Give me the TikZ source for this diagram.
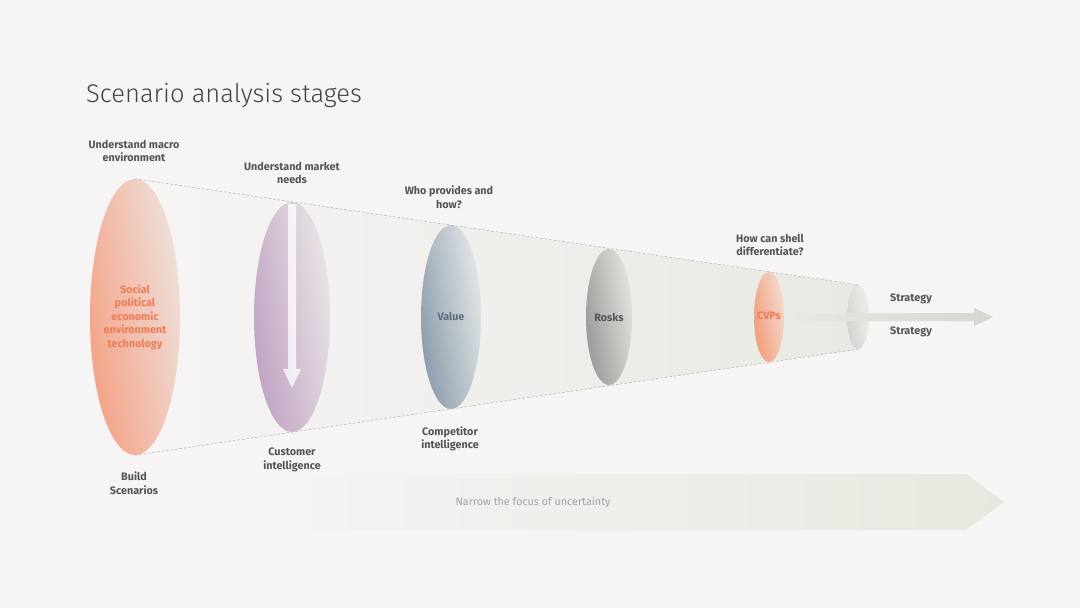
\documentclass[tikz,border=0pt]{standalone}
\usepackage{fontspec}
\setmainfont{Fira Sans}
\newfontfamily\titlefont{Fira Sans Light}
\usetikzlibrary{shapes.geometric}
\definecolor{bgc}{HTML}{F6F4F4}
\definecolor{conec}{HTML}{E9E9E3}
\definecolor{bandc}{HTML}{E8E7DF}
\definecolor{dashgray}{HTML}{B8B8B8}
\definecolor{labelgray}{HTML}{555555}
\definecolor{titlegray}{HTML}{444444}
\definecolor{orA}{HTML}{F4A083}
\definecolor{orB}{HTML}{EEE2DD}
\definecolor{puA}{HTML}{BEA0C1}
\definecolor{puB}{HTML}{EAE7E7}
\definecolor{blA}{HTML}{8799A8}
\definecolor{blB}{HTML}{E7E9E9}
\definecolor{grA}{HTML}{969694}
\definecolor{grB}{HTML}{E6E6E2}
\definecolor{cvA}{HTML}{F19A78}
\definecolor{cvB}{HTML}{F5DDD2}
\definecolor{enA}{HTML}{D2D2CE}
\definecolor{enB}{HTML}{EFEFEB}
\definecolor{orText}{HTML}{EE7C57}
\definecolor{valText}{HTML}{5D6E7E}
\definecolor{narText}{HTML}{A3A3A3}
\definecolor{arrA}{HTML}{E9E9E3}
\definecolor{arrB}{HTML}{D5D5D1}
\begin{document}
\begin{tikzpicture}[x=1pt,y=-1pt,
  lens/.style={ellipse, inner sep=0pt, draw=none},
  tilt/.style={shading angle=100},
  lbl/.style={font=\fontsize{10.8}{13.5}\selectfont\bfseries, text=labelgray, align=center, inner sep=0pt},
  rim/.style={draw=dashgray, dash pattern=on 2.5pt off 2pt, line width=0.6pt}]
\useasboundingbox (0,0) rectangle (1080,608);
\fill[bgc] (0,0) rectangle (1080,608);
% title
\node[anchor=base west, inner sep=0pt, font=\titlefont\fontsize{25.5}{30}\selectfont, text=titlegray] (title) at (86,102) {Scenario analysis stages};
% cone
\coordinate (t1) at (135,179);
\coordinate (t6) at (858,285);
\coordinate (b1) at (135,455);
\coordinate (b6) at (858,349);
\shade[left color=bgc, right color=conec] (t1) -- (t6) -- (b6) -- (b1) -- cycle;
% bottom band
\shade[left color=bgc, right color=bandc] (260,474) -- (966,474) -- (1004,502) -- (966,530) -- (260,530) -- cycle;
\node[font=\fontsize{10.8}{13}\selectfont, text=narText] (narrow) at (533,502) {Narrow the focus of uncertainty};
% lenses
\node[lens, minimum width=90, minimum height=276, left color=orA, right color=orB, tilt] (e1) at (135,317) {};
\node[lens, minimum width=76, minimum height=230, left color=puA, right color=puB, tilt] (e2) at (292,317) {};
\node[lens, minimum width=60, minimum height=184, left color=blA, right color=blB, tilt] (e3) at (451,317) {};
\node[lens, minimum width=46, minimum height=136, left color=grA, right color=grB, tilt] (e4) at (609,317) {};
\node[lens, minimum width=30, minimum height=90, left color=cvA, right color=cvB, tilt] (e5) at (769,317) {};
\node[lens, minimum width=22, minimum height=64, left color=enA, right color=enB, tilt] (e6) at (858,317) {};
% rims
\draw[rim] (e1.north) -- (e6.north);
\draw[rim] (e1.south) -- (e6.south);
% down arrow in e2
\fill[white, opacity=0.75] (288,204) -- (296,204) -- (296,369) -- (301,369) -- (292,388) -- (283,369) -- (288,369) -- cycle;
% strategy arrow
\coordinate (sEnd) at (993,317);
\shade[left color=arrA, right color=arrB] (790,313) -- (974,313) -- (974,308) -- (sEnd) -- (974,326) -- (974,321) -- (790,321) -- cycle;
% inner texts
\node[lbl, text=orText] (t-e1) at (e1.center) {Social\\political\\economic\\environment\\technology};
\node[lbl, text=valText] (t-e3) at (451,316) {Value};
\node[lbl] (t-e4) at (609,317) {Rosks};
\node[lbl, text=orText] (t-e5) at (769,316) {CVPs};
% labels
\node[lbl] (l1) at (134,151) {Understand macro\\environment};
\node[lbl] (l2) at (292,173) {Understand market\\needs};
\node[lbl] (l3) at (449,197) {Who provides and\\how?};
\node[lbl] (l5) at (770,245) {How can shell\\differentiate?};
\node[lbl] (s1) at (911,299) {Strategy};
\node[lbl] (s2) at (911,332) {Strategy};
\node[lbl] (d1) at (134,483) {Build\\Scenarios};
\node[lbl] (d2) at (292,460) {Customer\\intelligence};
\node[lbl] (d3) at (450,439) {Competitor\\intelligence};
\end{tikzpicture}
\end{document}
